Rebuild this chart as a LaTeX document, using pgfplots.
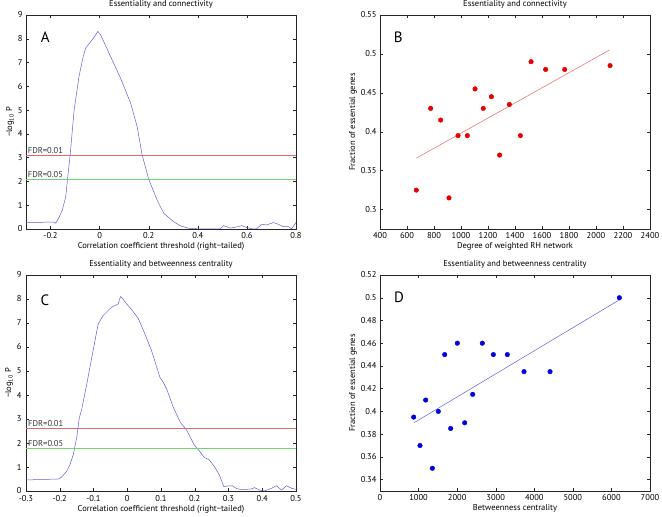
\documentclass[border=0pt]{standalone}
\usepackage{pgfplots}
\pgfplotsset{compat=1.18}
\usepackage{fontspec}
\setmainfont{PT Sans}
\definecolor{mblue}{RGB}{95,95,215}
\definecolor{mred}{RGB}{228,105,105}
\definecolor{mgreen}{RGB}{110,215,110}
\definecolor{dotred}{RGB}{230,0,0}
\definecolor{dotblue}{RGB}{0,0,220}
\pgfplotsset{
  every axis/.append style={
    scale only axis,
    font=\fontsize{8.5}{10}\selectfont,
    tick label style={font=\fontsize{8.5}{10}\selectfont},
    /pgf/number format/assume math mode=true,
    /pgf/number format/1000 sep={},
    scaled ticks=false,
    tick align=inside,
    major tick length=3pt,
    axis line style={black!85},
    every tick/.style={black!85},
    title style={yshift=-3pt},
    ylabel style={yshift=-3pt},
    xlabel style={yshift=3pt},
  }
}
\newcommand{\panellabel}{\fontsize{15}{15}\selectfont}
\begin{document}
\begin{tikzpicture}
\useasboundingbox (0,0) rectangle (662pt,517pt);
% Panel A
\begin{axis}[at={(26pt,288pt)}, anchor=south west, width=270pt, height=214pt,
  xmin=-0.3, xmax=0.8, ymin=0, ymax=9,
  xtick={-0.2,0,0.2,0.4,0.6,0.8}, ytick={0,1,...,9},
  title={Essentiality and connectivity},
  xlabel={Correlation coefficient threshold (right−tailed)},
  ylabel={−log\textsubscript{10} P}]
\addplot[mblue, line width=0.5pt] coordinates {
(-0.3,0.27) (-0.2,0.29) (-0.185,0.29) (-0.179,0.24) (-0.165,0.5) (-0.152,0.8)
(-0.138,1.36) (-0.131,2.09) (-0.12,3.12) (-0.104,5.0) (-0.084,6.42) (-0.068,7.2)
(-0.057,7.61) (-0.03,7.96) (-0.007,8.31) (0.004,8.17) (0.038,7.4) (0.085,6.35)
(0.126,5.3) (0.153,4.3) (0.173,3.12) (0.2,2.09) (0.234,1.22) (0.261,0.66)
(0.301,0.31) (0.329,0.13) (0.363,0.03) (0.396,0.01) (0.491,0.01) (0.505,0.14)
(0.532,0.04) (0.552,0.07) (0.579,0.14) (0.6,0.06) (0.62,0.01) (0.64,0.01)
(0.66,0.2) (0.68,0.17) (0.708,0.27) (0.728,0.2) (0.748,0.1) (0.769,0.1)
(0.782,0.01) (0.8,0.27)};
\addplot[mred, line width=0.6pt] coordinates {(-0.3,3.1) (0.8,3.1)};
\addplot[mgreen, line width=0.6pt] coordinates {(-0.3,2.1) (0.8,2.1)};
\node[anchor=south west, inner sep=1pt, text=black!80] at (axis cs:-0.297,3.1) {FDR=0.01};
\node[anchor=south west, inner sep=1pt, text=black!80] at (axis cs:-0.297,2.1) {FDR=0.05};
\node[font=\panellabel] at (axis cs:-0.222,8.07) {A};
\end{axis}
% Panel B
\begin{axis}[at={(380pt,288pt)}, anchor=south west, width=270pt, height=214pt,
  xmin=400, xmax=2400, ymin=0.275, ymax=0.55,
  xtick={400,600,...,2400}, ytick={0.3,0.35,0.4,0.45,0.5,0.55},
  yticklabels={0.3,0.35,0.4,0.45,0.5,0.55},
  title={Essentiality and connectivity},
  xlabel={Degree of weighted RH network},
  ylabel={Fraction of essential genes}]
\addplot[mred, line width=0.5pt] coordinates {(669,0.366) (2100,0.505)};
\addplot[only marks, mark=*, mark size=2.3pt, dotred, mark options={draw=dotred, fill=dotred}] coordinates {
(669,0.325) (775,0.43) (849,0.415) (911,0.315) (978,0.395) (1047,0.395)
(1104,0.455) (1165,0.43) (1225,0.445) (1286,0.37) (1358,0.435) (1440,0.395)
(1519,0.49) (1627,0.48) (1768,0.48) (2104,0.485)};
\node[font=\panellabel] at (axis cs:536,0.521) {B};
\end{axis}
% Panel C
\begin{axis}[at={(26pt,26pt)}, anchor=south west, width=270pt, height=216pt,
  xmin=-0.3, xmax=0.5, ymin=0, ymax=9,
  xtick={-0.3,-0.2,...,0.5}, xticklabels={-0.3,-0.2,-0.1,0,0.1,0.2,0.3,0.4,0.5},
  ytick={0,1,...,9},
  xticklabel style={yshift=-1pt},
  yticklabel style={xshift=-1pt},
  title={Essentiality and betweenness centrality},
  xlabel={Correlation coefficient threshold (right−tailed)},
  ylabel={−log\textsubscript{10} P}]
\addplot[mblue, line width=0.5pt] coordinates {
(-0.3,0.46) (-0.204,0.5) (-0.196,0.56) (-0.18,0.81) (-0.17,1.09) (-0.16,1.51)
(-0.15,2.21) (-0.142,3.05) (-0.135,3.4) (-0.12,4.45) (-0.105,5.57) (-0.086,6.97)
(-0.071,7.32) (-0.051,7.6) (-0.041,7.7) (-0.032,7.75) (-0.027,7.8) (-0.02,8.1)
(-0.014,8.02) (-0.002,7.8) (0.013,7.56) (0.033,7.18) (0.048,6.69) (0.072,5.85)
(0.097,4.73) (0.107,4.52) (0.117,4.24) (0.137,3.47) (0.158,2.84) (0.173,2.6)
(0.183,2.35) (0.198,1.93) (0.213,1.68) (0.228,1.4) (0.243,1.3) (0.258,1.02)
(0.273,0.67) (0.286,0.18) (0.298,0.21) (0.311,0.22) (0.323,0.11) (0.333,0.07)
(0.353,0.07) (0.367,0.08) (0.377,0.14) (0.392,0.04) (0.407,0) (0.427,0.11)
(0.442,0.22) (0.457,0.04) (0.472,0.22) (0.487,0.11) (0.5,0.07)};
\addplot[mred, line width=0.6pt] coordinates {(-0.3,2.62) (0.5,2.62)};
\addplot[mgreen, line width=0.6pt] coordinates {(-0.3,1.8) (0.5,1.8)};
\node[anchor=south west, inner sep=1pt, text=black!80] at (axis cs:-0.297,2.62) {FDR=0.01};
\node[anchor=south west, inner sep=1pt, text=black!80] at (axis cs:-0.297,1.8) {FDR=0.05};
\node[font=\panellabel] at (axis cs:-0.244,7.93) {C};
\end{axis}
% Panel D
\begin{axis}[at={(380pt,26pt)}, anchor=south west, width=270pt, height=216pt,
  xmin=0, xmax=7000, ymin=0.33, ymax=0.52,
  xtick={0,1000,...,7000}, ytick={0.34,0.36,...,0.52},
  yticklabels={0.34,0.36,0.38,0.4,0.42,0.44,0.46,0.48,0.5,0.52},
  title={Essentiality and betweenness centrality},
  xlabel={Betweenness centrality},
  ylabel={Fraction of essential genes}]
\addplot[mblue, line width=0.5pt] coordinates {(880,0.390) (6200,0.498)};
\addplot[only marks, mark=*, mark size=2.3pt, dotblue, mark options={draw=dotblue, fill=dotblue}] coordinates {
(873,0.395) (1037,0.37) (1184,0.41) (1357,0.35) (1512,0.40) (1677,0.45)
(1832,0.385) (2005,0.46) (2195,0.39) (2403,0.415) (2653,0.46) (2939,0.45)
(3301,0.45) (3734,0.435) (4408,0.435) (6206,0.50)};
\node[font=\panellabel] at (axis cs:493,0.5) {D};
\end{axis}
\end{tikzpicture}
\end{document}
